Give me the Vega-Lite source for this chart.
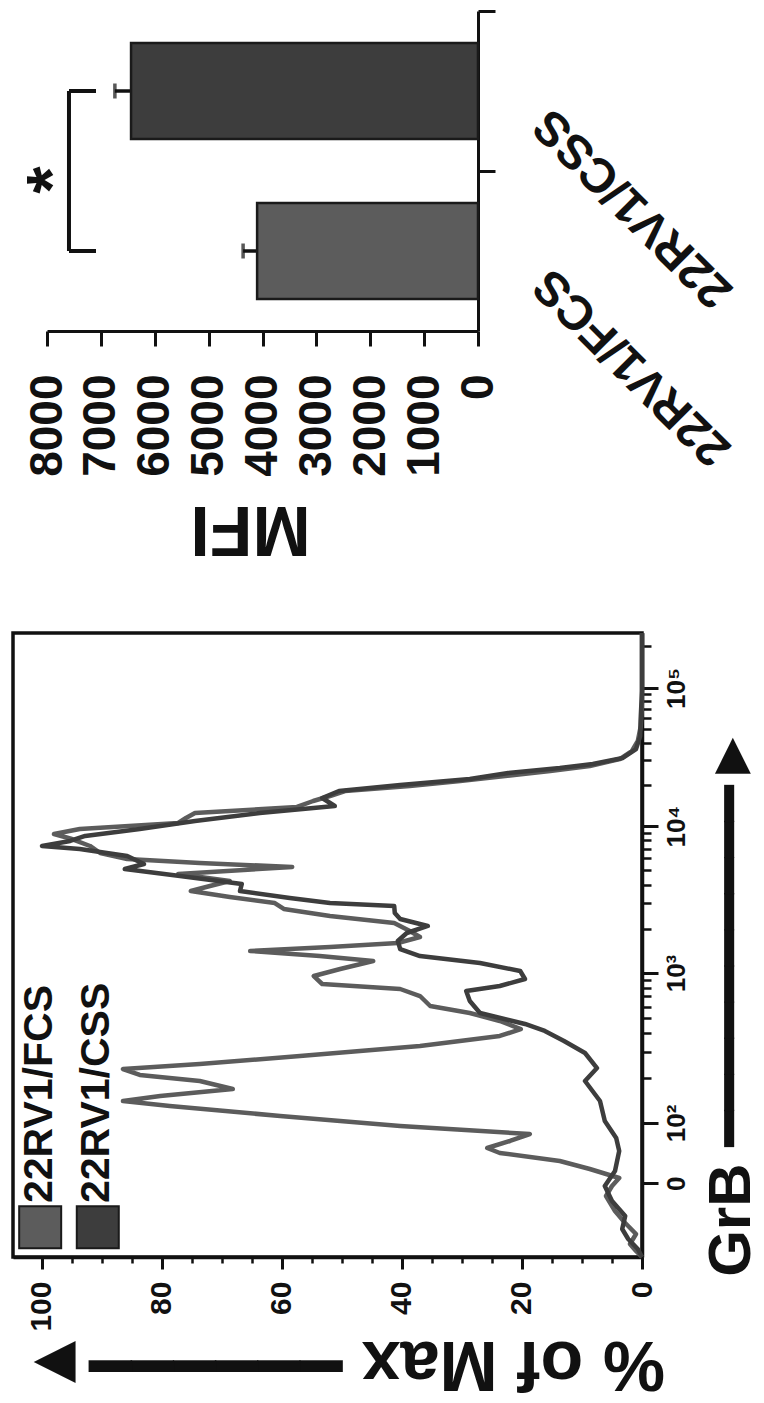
{
  "$schema": "https://vega.github.io/schema/vega-lite/v6.json",
  "background": "white",
  "padding": {"left": 11, "top": 9, "right": 4, "bottom": 4},
  "config": {
    "font": "Liberation Sans",
    "view": {"stroke": null},
    "axis": {
      "grid": false,
      "domainColor": "#111111",
      "tickColor": "#111111",
      "labelColor": "#111111",
      "titleColor": "#111111",
      "labelFont": "Liberation Sans, DejaVu Sans",
      "titleFont": "Liberation Sans, DejaVu Sans",
      "labelFontWeight": "bold",
      "titleFontWeight": "bold",
      "labelFlush": false,
      "labelOverlap": false,
      "labelLimit": 0
    }
  },
  "bounds": "flush",
  "spacing": 302,
  "datasets": {
    "mfi": [
      {"group": "22RV1/FCS", "mfi": 4100, "sem": 260},
      {"group": "22RV1/CSS", "mfi": 6440, "sem": 300}
    ],
    "histogram": [
      {"series": "22RV1/FCS", "grb": 0, "pct": 0},
      {"series": "22RV1/FCS", "grb": 9.8, "pct": 1.0},
      {"series": "22RV1/FCS", "grb": 21.3, "pct": 2.0},
      {"series": "22RV1/FCS", "grb": 37.7, "pct": 1.0},
      {"series": "22RV1/FCS", "grb": 55.8, "pct": 2.8},
      {"series": "22RV1/FCS", "grb": 75.5, "pct": 4.5},
      {"series": "22RV1/FCS", "grb": 100.1, "pct": 6.0},
      {"series": "22RV1/FCS", "grb": 116.5, "pct": 5.0},
      {"series": "22RV1/FCS", "grb": 129.6, "pct": 3.8},
      {"series": "22RV1/FCS", "grb": 144.4, "pct": 8.7},
      {"series": "22RV1/FCS", "grb": 157.5, "pct": 13.7},
      {"series": "22RV1/FCS", "grb": 170.7, "pct": 23.7},
      {"series": "22RV1/FCS", "grb": 178.9, "pct": 25.8},
      {"series": "22RV1/FCS", "grb": 190.4, "pct": 22.0},
      {"series": "22RV1/FCS", "grb": 201.8, "pct": 18.7},
      {"series": "22RV1/FCS", "grb": 215.0, "pct": 40.3},
      {"series": "22RV1/FCS", "grb": 231.4, "pct": 60.3},
      {"series": "22RV1/FCS", "grb": 247.8, "pct": 78.7},
      {"series": "22RV1/FCS", "grb": 256.0, "pct": 86.5},
      {"series": "22RV1/FCS", "grb": 264.2, "pct": 80.3},
      {"series": "22RV1/FCS", "grb": 275.7, "pct": 68.2},
      {"series": "22RV1/FCS", "grb": 288.8, "pct": 73.7},
      {"series": "22RV1/FCS", "grb": 298.7, "pct": 83.7},
      {"series": "22RV1/FCS", "grb": 308.5, "pct": 86.5},
      {"series": "22RV1/FCS", "grb": 316.7, "pct": 73.7},
      {"series": "22RV1/FCS", "grb": 329.8, "pct": 57.0},
      {"series": "22RV1/FCS", "grb": 346.3, "pct": 37.0},
      {"series": "22RV1/FCS", "grb": 362.7, "pct": 23.7},
      {"series": "22RV1/FCS", "grb": 374.1, "pct": 20.2},
      {"series": "22RV1/FCS", "grb": 387.3, "pct": 23.7},
      {"series": "22RV1/FCS", "grb": 400.4, "pct": 28.7},
      {"series": "22RV1/FCS", "grb": 411.9, "pct": 35.3},
      {"series": "22RV1/FCS", "grb": 428.3, "pct": 37.0},
      {"series": "22RV1/FCS", "grb": 439.8, "pct": 40.3},
      {"series": "22RV1/FCS", "grb": 448.0, "pct": 53.3},
      {"series": "22RV1/FCS", "grb": 461.1, "pct": 54.7},
      {"series": "22RV1/FCS", "grb": 472.6, "pct": 50.3},
      {"series": "22RV1/FCS", "grb": 485.7, "pct": 44.8},
      {"series": "22RV1/FCS", "grb": 493.9, "pct": 53.7},
      {"series": "22RV1/FCS", "grb": 502.1, "pct": 65.3},
      {"series": "22RV1/FCS", "grb": 508.7, "pct": 52.0},
      {"series": "22RV1/FCS", "grb": 515.3, "pct": 40.7},
      {"series": "22RV1/FCS", "grb": 525.1, "pct": 37.0},
      {"series": "22RV1/FCS", "grb": 535.0, "pct": 38.7},
      {"series": "22RV1/FCS", "grb": 548.1, "pct": 41.3},
      {"series": "22RV1/FCS", "grb": 559.6, "pct": 52.0},
      {"series": "22RV1/FCS", "grb": 571.1, "pct": 59.7},
      {"series": "22RV1/FCS", "grb": 580.9, "pct": 61.2},
      {"series": "22RV1/FCS", "grb": 590.8, "pct": 68.7},
      {"series": "22RV1/FCS", "grb": 600.6, "pct": 75.2},
      {"series": "22RV1/FCS", "grb": 608.8, "pct": 72.0},
      {"series": "22RV1/FCS", "grb": 617.0, "pct": 68.7},
      {"series": "22RV1/FCS", "grb": 628.5, "pct": 77.3},
      {"series": "22RV1/FCS", "grb": 640.0, "pct": 58.3},
      {"series": "22RV1/FCS", "grb": 646.6, "pct": 73.7},
      {"series": "22RV1/FCS", "grb": 653.1, "pct": 85.8},
      {"series": "22RV1/FCS", "grb": 663.0, "pct": 90.3},
      {"series": "22RV1/FCS", "grb": 674.5, "pct": 92.0},
      {"series": "22RV1/FCS", "grb": 685.9, "pct": 95.0},
      {"series": "22RV1/FCS", "grb": 694.1, "pct": 98.0},
      {"series": "22RV1/FCS", "grb": 702.3, "pct": 93.7},
      {"series": "22RV1/FCS", "grb": 712.2, "pct": 77.3},
      {"series": "22RV1/FCS", "grb": 720.4, "pct": 76.0},
      {"series": "22RV1/FCS", "grb": 728.6, "pct": 74.5},
      {"series": "22RV1/FCS", "grb": 738.5, "pct": 57.5},
      {"series": "22RV1/FCS", "grb": 748.3, "pct": 54.8},
      {"series": "22RV1/FCS", "grb": 756.5, "pct": 52.0},
      {"series": "22RV1/FCS", "grb": 764.7, "pct": 49.5},
      {"series": "22RV1/FCS", "grb": 772.9, "pct": 38.7},
      {"series": "22RV1/FCS", "grb": 781.1, "pct": 30.3},
      {"series": "22RV1/FCS", "grb": 789.3, "pct": 22.8},
      {"series": "22RV1/FCS", "grb": 797.5, "pct": 15.3},
      {"series": "22RV1/FCS", "grb": 805.7, "pct": 8.7},
      {"series": "22RV1/FCS", "grb": 817.2, "pct": 3.7},
      {"series": "22RV1/FCS", "grb": 830.3, "pct": 1.7},
      {"series": "22RV1/FCS", "grb": 846.8, "pct": 0.7},
      {"series": "22RV1/FCS", "grb": 871.4, "pct": 0.2},
      {"series": "22RV1/FCS", "grb": 912.4, "pct": 0},
      {"series": "22RV1/FCS", "grb": 1024, "pct": 0},
      {"series": "22RV1/CSS", "grb": 0, "pct": 0},
      {"series": "22RV1/CSS", "grb": 13.1, "pct": 0.7},
      {"series": "22RV1/CSS", "grb": 29.5, "pct": 2.3},
      {"series": "22RV1/CSS", "grb": 45.9, "pct": 3.3},
      {"series": "22RV1/CSS", "grb": 67.3, "pct": 2.8},
      {"series": "22RV1/CSS", "grb": 91.9, "pct": 5.0},
      {"series": "22RV1/CSS", "grb": 116.5, "pct": 6.2},
      {"series": "22RV1/CSS", "grb": 141.1, "pct": 4.5},
      {"series": "22RV1/CSS", "grb": 173.9, "pct": 3.8},
      {"series": "22RV1/CSS", "grb": 195.3, "pct": 4.3},
      {"series": "22RV1/CSS", "grb": 223.2, "pct": 6.2},
      {"series": "22RV1/CSS", "grb": 256.0, "pct": 7.0},
      {"series": "22RV1/CSS", "grb": 288.8, "pct": 9.5},
      {"series": "22RV1/CSS", "grb": 310.1, "pct": 7.5},
      {"series": "22RV1/CSS", "grb": 334.8, "pct": 9.5},
      {"series": "22RV1/CSS", "grb": 354.5, "pct": 13.0},
      {"series": "22RV1/CSS", "grb": 370.9, "pct": 16.2},
      {"series": "22RV1/CSS", "grb": 382.4, "pct": 19.5},
      {"series": "22RV1/CSS", "grb": 400.4, "pct": 27.0},
      {"series": "22RV1/CSS", "grb": 420.1, "pct": 28.7},
      {"series": "22RV1/CSS", "grb": 436.5, "pct": 29.3},
      {"series": "22RV1/CSS", "grb": 444.7, "pct": 23.7},
      {"series": "22RV1/CSS", "grb": 456.2, "pct": 19.5},
      {"series": "22RV1/CSS", "grb": 469.3, "pct": 20.3},
      {"series": "22RV1/CSS", "grb": 482.5, "pct": 27.0},
      {"series": "22RV1/CSS", "grb": 493.9, "pct": 37.0},
      {"series": "22RV1/CSS", "grb": 505.4, "pct": 40.3},
      {"series": "22RV1/CSS", "grb": 518.6, "pct": 40.7},
      {"series": "22RV1/CSS", "grb": 531.7, "pct": 39.2},
      {"series": "22RV1/CSS", "grb": 543.2, "pct": 35.7},
      {"series": "22RV1/CSS", "grb": 554.7, "pct": 40.3},
      {"series": "22RV1/CSS", "grb": 564.5, "pct": 41.2},
      {"series": "22RV1/CSS", "grb": 576.0, "pct": 41.3},
      {"series": "22RV1/CSS", "grb": 580.9, "pct": 52.0},
      {"series": "22RV1/CSS", "grb": 589.1, "pct": 58.7},
      {"series": "22RV1/CSS", "grb": 600.6, "pct": 67.0},
      {"series": "22RV1/CSS", "grb": 612.1, "pct": 66.7},
      {"series": "22RV1/CSS", "grb": 625.2, "pct": 77.0},
      {"series": "22RV1/CSS", "grb": 636.7, "pct": 86.2},
      {"series": "22RV1/CSS", "grb": 644.9, "pct": 83.0},
      {"series": "22RV1/CSS", "grb": 658.0, "pct": 85.8},
      {"series": "22RV1/CSS", "grb": 669.5, "pct": 93.7},
      {"series": "22RV1/CSS", "grb": 674.5, "pct": 100},
      {"series": "22RV1/CSS", "grb": 682.7, "pct": 95.3},
      {"series": "22RV1/CSS", "grb": 690.9, "pct": 92.8},
      {"series": "22RV1/CSS", "grb": 702.3, "pct": 83.7},
      {"series": "22RV1/CSS", "grb": 715.5, "pct": 74.5},
      {"series": "22RV1/CSS", "grb": 728.6, "pct": 63.7},
      {"series": "22RV1/CSS", "grb": 740.1, "pct": 51.2},
      {"series": "22RV1/CSS", "grb": 753.2, "pct": 53.3},
      {"series": "22RV1/CSS", "grb": 764.7, "pct": 50.5},
      {"series": "22RV1/CSS", "grb": 774.6, "pct": 40.3},
      {"series": "22RV1/CSS", "grb": 784.4, "pct": 28.7},
      {"series": "22RV1/CSS", "grb": 794.2, "pct": 22.3},
      {"series": "22RV1/CSS", "grb": 802.4, "pct": 13.7},
      {"series": "22RV1/CSS", "grb": 809.0, "pct": 8.2},
      {"series": "22RV1/CSS", "grb": 818.9, "pct": 3.2},
      {"series": "22RV1/CSS", "grb": 833.6, "pct": 1.0},
      {"series": "22RV1/CSS", "grb": 855.0, "pct": 0.3},
      {"series": "22RV1/CSS", "grb": 887.8, "pct": 0.2},
      {"series": "22RV1/CSS", "grb": 928.8, "pct": 0},
      {"series": "22RV1/CSS", "grb": 1024, "pct": 0}
    ]
  },
  "vconcat": [
    {
      "width": 465,
      "height": 320,
      "layer": [
        {
          "data": {"name": "mfi"},
          "encoding": {
            "y": {
              "field": "group",
              "type": "nominal",
              "scale": {"domain": ["22RV1/CSS", "22RV1/FCS"], "paddingInner": 0.4, "paddingOuter": 0.2},
              "axis": {
                "orient": "right",
                "title": null,
                "domainWidth": 3,
                "tickWidth": 3,
                "tickSize": 17,
                "tickOffset": -80,
                "labelOffset": 105,
                "labelAngle": -135,
                "labelAlign": "right",
                "labelBaseline": "middle",
                "labelPadding": 47,
                "labelFontSize": 48
              }
            },
            "x": {
              "field": "mfi",
              "type": "quantitative",
              "scale": {"domain": [0, 8000], "range": [465, 34], "nice": false},
              "axis": {
                "orient": "bottom",
                "values": [0, 1000, 2000, 3000, 4000, 5000, 6000, 7000, 8000],
                "format": "d",
                "domainWidth": 3,
                "tickWidth": 3,
                "tickSize": 15,
                "labelAngle": -90,
                "labelAlign": "right",
                "labelBaseline": "middle",
                "labelPadding": 28,
                "labelFontSize": 46,
                "title": "MFI",
                "titleFontSize": 70,
                "titleAngle": 180,
                "titleBaseline": "bottom",
                "titleX": 237,
                "titleY": 160
              }
            }
          },
          "layer": [
            {
              "mark": {
                "type": "errorbar",
                "color": "#111111",
                "thickness": 3.5,
                "ticks": {"size": 15, "thickness": 3.5, "color": "#111111"},
                "rule": {"strokeWidth": 3.5, "color": "#111111"}
              },
              "encoding": {"xError": {"field": "sem"}}
            },
            {
              "mark": {"type": "bar", "stroke": "#1a1a1a", "strokeWidth": 2.5},
              "encoding": {
                "color": {
                  "field": "group",
                  "type": "nominal",
                  "scale": {"domain": ["22RV1/FCS", "22RV1/CSS"], "range": ["#5c5c5c", "#3d3d3d"]},
                  "legend": null
                }
              }
            }
          ]
        },
        {
          "data": {"values": [{}]},
          "mark": {"type": "rule", "strokeWidth": 4, "color": "#111111"},
          "encoding": {
            "x": {"datum": 7592},
            "y": {"datum": "22RV1/CSS"},
            "y2": {"datum": "22RV1/FCS"}
          }
        },
        {
          "data": {"values": [{}]},
          "mark": {"type": "rule", "strokeWidth": 4, "color": "#111111"},
          "encoding": {
            "x": {"datum": 7592},
            "x2": {"datum": 7090},
            "y": {"datum": "22RV1/CSS"}
          }
        },
        {
          "data": {"values": [{}]},
          "mark": {"type": "rule", "strokeWidth": 4, "color": "#111111"},
          "encoding": {
            "x": {"datum": 7592},
            "x2": {"datum": 7090},
            "y": {"datum": "22RV1/FCS"}
          }
        },
        {
          "data": {"values": [{}]},
          "mark": {
            "type": "text",
            "text": "*",
            "angle": 270,
            "dx": -89,
            "fontSize": 70,
            "fontWeight": "bold",
            "align": "center",
            "baseline": "middle",
            "color": "#111111"
          },
          "encoding": {
            "x": {"datum": 7860},
            "y": {"datum": "22RV1/CSS"}
          }
        }
      ]
    },
    {
      "width": 629,
      "height": 624,
      "view": {"stroke": "#111111", "strokeWidth": 3.5},
      "resolve": {"axis": {"x": "independent", "y": "independent"}},
      "layer": [
        {
          "data": {"name": "histogram"},
          "mark": {"type": "line", "strokeWidth": 4.5, "strokeJoin": "round"},
          "encoding": {
            "x": {
              "field": "pct",
              "type": "quantitative",
              "scale": {"domain": [0, 104.83], "reverse": true, "nice": false, "zero": false},
              "axis": {
                "orient": "bottom",
                "values": [0, 20, 40, 60, 80, 100],
                "domainWidth": 3.5,
                "tickWidth": 3,
                "tickSize": 12,
                "labelAngle": -90,
                "labelAlign": "right",
                "labelBaseline": "middle",
                "labelPadding": 12,
                "labelFontSize": 30,
                "title": "% of Max ━━━━━━►",
                "titleFontSize": 70,
                "titleAngle": 180,
                "titleBaseline": "bottom",
                "titleX": 329,
                "titleY": 69
              }
            },
            "y": {
              "field": "grb",
              "type": "quantitative",
              "scale": {"domain": [0, 1024], "nice": false, "zero": false},
              "axis": {
                "orient": "right",
                "values": [121, 220, 466, 707, 934],
                "labelExpr": "datum.value === 934 ? '10⁵' : datum.value === 707 ? '10⁴' : datum.value === 466 ? '10³' : datum.value === 220 ? '10²' : '0'",
                "domainWidth": 3.5,
                "tickWidth": 3,
                "tickSize": 16,
                "labelAngle": -90,
                "labelAlign": "center",
                "labelBaseline": "top",
                "labelPadding": 5,
                "labelFontSize": 26,
                "title": "GrB ━━━━━━━━━━►",
                "titleFontSize": 60,
                "titleAngle": 270,
                "titleBaseline": "top",
                "titleX": 60,
                "titleY": 368
              }
            },
            "color": {
              "field": "series",
              "type": "nominal",
              "scale": {"domain": ["22RV1/FCS", "22RV1/CSS"], "range": ["#777777", "#575757"]},
              "legend": null
            },
            "order": {"field": "grb", "type": "quantitative"}
          }
        },
        {
          "data": {"values": [{}]},
          "mark": {"type": "point", "shape": "square", "size": 1764, "filled": true, "color": "#5c5c5c", "stroke": "#1a1a1a", "strokeWidth": 2, "opacity": 1},
          "encoding": {
            "x": {
              "datum": 100.3,
              "axis": {
                "orient": "bottom",
                "values": [5, 10, 15, 25, 30, 35, 45, 50, 55, 65, 70, 75, 85, 90, 95],
                "tickSize": 6,
                "tickWidth": 2.5,
                "labels": false,
                "domain": false,
                "title": null
              }
            },
            "y": {
              "datum": 49,
              "axis": {
                "orient": "right",
                "values": [294, 337, 368, 392, 411, 428, 442, 455, 539, 581, 611, 635, 654, 670, 684, 696, 775, 815, 844, 866, 884, 899, 912, 924, 1002],
                "tickSize": 9,
                "tickWidth": 2.5,
                "labels": false,
                "domain": false,
                "title": null
              }
            }
          }
        },
        {
          "data": {"values": [{}]},
          "mark": {"type": "point", "shape": "square", "size": 1764, "filled": true, "color": "#3d3d3d", "stroke": "#1a1a1a", "strokeWidth": 2, "opacity": 1},
          "encoding": {
            "x": {"datum": 90.7, "axis": null},
            "y": {"datum": 49, "axis": null}
          }
        },
        {
          "data": {"values": [{}]},
          "mark": {"type": "text", "text": "22RV1/FCS", "angle": 270, "align": "left", "baseline": "middle", "fontSize": 41, "fontWeight": "bold", "color": "#111111"},
          "encoding": {
            "x": {"datum": 100.3, "axis": null},
            "y": {"datum": 88.6, "axis": null}
          }
        },
        {
          "data": {"values": [{}]},
          "mark": {"type": "text", "text": "22RV1/CSS", "angle": 270, "align": "left", "baseline": "middle", "fontSize": 41, "fontWeight": "bold", "color": "#111111"},
          "encoding": {
            "x": {"datum": 90.9, "axis": null},
            "y": {"datum": 88.6, "axis": null}
          }
        }
      ]
    }
  ]
}
